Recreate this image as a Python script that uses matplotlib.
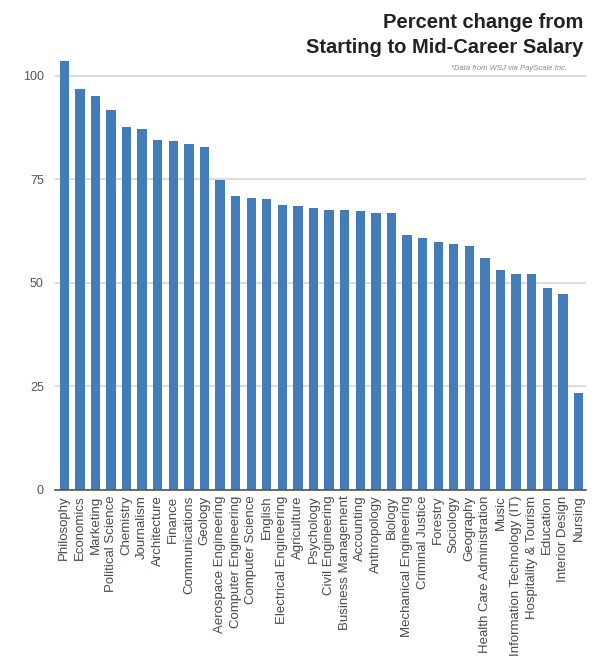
import matplotlib
matplotlib.use("Agg")
import matplotlib.pyplot as plt

majors = ["Philosophy", "Economics", "Marketing", "Political Science", "Chemistry",
          "Journalism", "Architecture", "Finance", "Communications", "Geology",
          "Aerospace Engineering", "Computer Engineering", "Computer Science", "English",
          "Electrical Engineering", "Agriculture", "Psychology", "Civil Engineering",
          "Business Management", "Accounting", "Anthropology", "Biology",
          "Mechanical Engineering", "Criminal Justice", "Forestry", "Sociology",
          "Geography", "Health Care Administration", "Music",
          "Information Technology (IT)", "Hospitality & Tourism", "Education",
          "Interior Design", "Nursing"]
pct_change = [103.5, 96.8, 95.1, 91.9, 87.6, 87.3, 84.6, 84.4, 83.6, 82.8,
              74.9, 70.9, 70.6, 70.3, 68.9, 68.7, 68.2, 67.7, 67.7, 67.4,
              66.9, 66.9, 61.6, 60.8, 60.0, 59.5, 58.9, 56.0, 53.1, 52.1,
              52.1, 48.9, 47.3, 23.4]
yticks = [0, 25, 50, 75, 100]

plt.rcParams['font.family'] = ['Liberation Sans', 'DejaVu Sans']

fig = plt.figure(figsize=(6.1, 6.59), dpi=100)
ax = fig.add_axes([0.090, 0.2565, 0.871, 0.6596])

x = range(len(majors))
ax.bar(x, pct_change, width=0.6, color="#447CBA", zorder=3)

ax.set_xlim(-0.6, len(majors) - 0.5)
ax.set_ylim(0, 105)
ax.set_yticks(yticks)
ax.set_yticklabels([str(v) for v in yticks], fontsize=9, color="#555555")
ax.set_xticks(list(x))
ax.set_xticklabels(majors, rotation=90, fontsize=9.5, color="#444c4c")
ax.tick_params(axis='both', length=0)
ax.tick_params(axis='y', pad=8)
ax.tick_params(axis='x', pad=4)

ax.grid(axis='y', color="#d9d9d9", linewidth=1.3, zorder=0)
for s in ["top", "right", "left"]:
    ax.spines[s].set_visible(False)
ax.spines["bottom"].set_color("#555555")
ax.spines["bottom"].set_linewidth(1.2)
ax.spines["bottom"].set_zorder(4)

fig.text(583/610, 1 - 28/659, "Percent change from", ha='right', va='baseline',
         fontsize=14.5, fontweight='bold', color="#222222")
fig.text(583/610, 1 - 53/659, "Starting to Mid-Career Salary", ha='right', va='baseline',
         fontsize=14.5, fontweight='bold', color="#222222")
fig.text(567/610, 1 - 70/659, "*Data from WSJ via PayScale Inc.", ha='right', va='baseline',
         fontsize=5.5, style='italic', color="#888888")

fig.savefig("out.png", dpi=100)
